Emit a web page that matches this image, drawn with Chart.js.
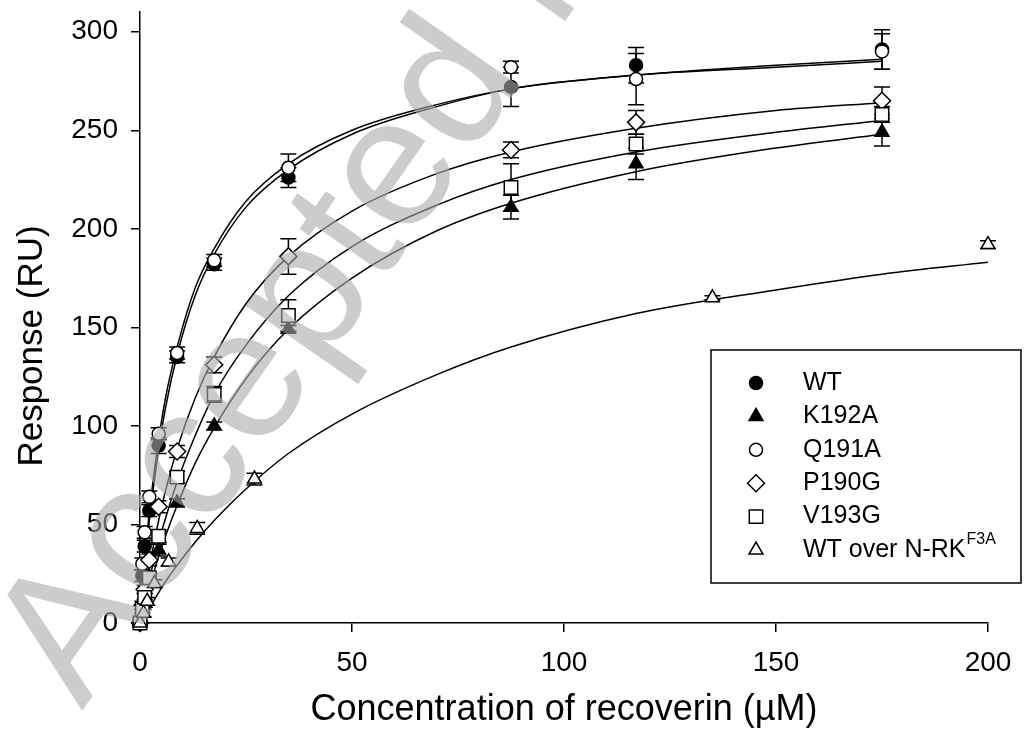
<!DOCTYPE html>
<html>
<head>
<meta charset="utf-8">
<script src="https://cdn.jsdelivr.net/npm/chart.js@4/dist/chart.umd.min.js"></script>
<style>
  html, body { margin: 0; padding: 0; background: #fff; }
  #wrap { width: 1024px; height: 746px; }
</style>
</head>
<body>
<div id="wrap"><canvas id="graph" width="1024" height="746"></canvas></div>
<script>
'use strict';

// concentrations of recoverin (uM)
var concMut = [0, 0.55, 1.1, 2.2, 4.4, 8.75, 17.5, 35, 87.5, 117, 175];
var concNRK = [0, 0.84, 1.7, 3.4, 6.75, 13.5, 27, 135, 200];

// measured response (RU) +- error
var wtY     = [0, 24, 39, 57, 90, 135, 182, 226, 272, 283, 291];
var wtErr   = [1, 3, 3, 3, 4, 3, 3, 5, 10, 9, 10];
var k192Y   = [0, 5, 10, 22, 37, 61, 100, 149, 211, 233, 249];
var k192Err = [1, 2, 2, 3, 3, 2, 2, 2, 6, 8, 7];
var q191Y   = [0, 30, 46, 64, 96, 137, 184, 231, 282, 276, 290];
var q191Err = [1, 3, 3, 3, 3, 3, 3, 7, 3, 13, 9];
var p190Y   = [0, 9, 17, 32, 59, 87, 131, 186, 240, 254, 265];
var p190Err = [1, 2, 2, 3, 3, 3, 4, 9, 4, 6, 7];
var v193Y   = [0, 7, 13, 23, 44, 74, 116, 156, 221, 243, 258];
var v193Err = [1, 2, 2, 2, 3, 3, 4, 8, 12, 5, 4];
var nrkY    = [0, 5, 11, 20, 31, 48, 73, 165, 192];
var nrkErr  = [1, 2, 2, 2, 2, 3, 3, 1, 2];

// fitted curves
var fitX    = [0, 1, 2, 4, 6, 9, 13, 17.5, 25, 35, 50, 70, 87.5, 117, 150, 175];
var fitXNRK = [0, 1, 2, 4, 6, 9, 13, 17.5, 25, 35, 50, 70, 87.5, 117, 150, 175, 200];
var wtFit   = [0, 26, 48, 82, 109, 138, 166, 187, 211, 230, 248, 262, 271, 278, 283, 286];
var q191Fit = [0, 28, 52, 87, 114, 142, 170, 190, 214, 233, 250, 263, 271, 278, 282, 285];
var p190Fit = [0, 14, 26, 48, 67, 90, 114, 135, 162, 186, 209, 228, 239, 251, 260, 264];
var v193Fit = [0, 10, 20, 38, 53, 73, 95, 116, 141, 166, 191, 212, 225, 239, 249, 255];
var k192Fit = [0, 8, 16, 31, 44, 61, 81, 99, 124, 149, 175, 199, 213, 229, 241, 248];
var nrkFit  = [0, 4, 7, 14, 21, 30, 41, 52, 68, 86, 106, 126, 140, 157, 169, 177, 183];

var yTicks = [0, 50, 100, 150, 200, 250, 300];

function pts(xs, ys) {
    return xs.map(function (x, i) { return { x: x, y: ys[i] }; });
}

function points(label, xs, ys, errs, style, radius, fill, order) {
    return {
        type: 'scatter',
        label: label,
        data: pts(xs, ys),
        errors: errs,
        pointStyle: style,
        pointRadius: radius,
        pointBackgroundColor: fill,
        pointBorderColor: '#000',
        pointBorderWidth: 1.5,
        clip: false,
        order: order
    };
}

function curve(xs, ys) {
    return {
        type: 'line',
        data: pts(xs, ys),
        borderColor: '#000',
        borderWidth: 1.5,
        pointRadius: 0,
        fill: false,
        cubicInterpolationMode: 'monotone',
        order: 20
    };
}

var pointSets = [
    points('WT', concMut, wtY, wtErr, 'circle', 6.5, '#000', 6),
    points('K192A', concMut, k192Y, k192Err, 'triangle', 8, '#000', 5),
    points('Q191A', concMut, q191Y, q191Err, 'circle', 6.5, '#fff', 4),
    points('P190G', concMut, p190Y, p190Err, 'rectRot', 8.5, '#fff', 3),
    points('V193G', concMut, v193Y, v193Err, 'rect', 9.5, '#fff', 2),
    points('WT over N-RK', concNRK, nrkY, nrkErr, 'triangle', 8, '#fff', 1)
];

var fitSets = [
    curve(fitX, wtFit), curve(fitX, q191Fit), curve(fitX, p190Fit),
    curve(fitX, v193Fit), curve(fitX, k192Fit), curve(fitXNRK, nrkFit)
];

var FONT = "'Liberation Sans', Arial, sans-serif";
Chart.defaults.font.family = FONT;
Chart.defaults.color = '#000';

// vertical error bars with caps, drawn under the markers
var errorBars = {
    id: 'errorBars',
    beforeDatasetsDraw: function (chart) {
        var ctx = chart.ctx, xs = chart.scales.x, ys = chart.scales.y;
        ctx.save();
        ctx.strokeStyle = '#000';
        ctx.lineWidth = 1.5;
        chart.data.datasets.forEach(function (ds) {
            if (!ds.errors) return;
            ds.data.forEach(function (p, i) {
                var e = ds.errors[i];
                if (!e) return;
                var px = xs.getPixelForValue(p.x);
                var top = ys.getPixelForValue(p.y + e);
                var bot = ys.getPixelForValue(p.y - e);
                ctx.beginPath();
                ctx.moveTo(px, top); ctx.lineTo(px, bot);
                ctx.moveTo(px - 8, top); ctx.lineTo(px + 8, top);
                ctx.moveTo(px - 8, bot); ctx.lineTo(px + 8, bot);
                ctx.stroke();
            });
        });
        ctx.restore();
    }
};

// y title, boxed legend inside the plot, and the gray watermark on top
var boxLegend = {
    id: 'boxLegend',
    afterDraw: function (chart) {
        var ctx = chart.ctx;
        ctx.save();
        ctx.fillStyle = '#000';
        ctx.font = '35px ' + FONT;
        ctx.textAlign = 'center';
        ctx.textBaseline = 'middle';
        ctx.translate(32, 346);
        ctx.rotate(-Math.PI / 2);
        ctx.fillText('Response (RU)', 0, 0);
        ctx.restore();

        ctx.save();
        ctx.strokeStyle = '#000';
        ctx.lineWidth = 1.5;
        ctx.strokeRect(711, 350, 310, 233);
        pointSets.forEach(function (ds, i) {
            var y = 383 + i * 33.4;
            ctx.fillStyle = ds.pointBackgroundColor;
            ctx.strokeStyle = '#000';
            ctx.lineWidth = 1.5;
            Chart.helpers.drawPoint(ctx, {
                pointStyle: ds.pointStyle,
                radius: ds.pointRadius,
                borderWidth: 1.5,
                rotation: 0
            }, 756, y);
            ctx.fillStyle = '#000';
            ctx.font = '25px ' + FONT;
            ctx.textBaseline = 'middle';
            ctx.textAlign = 'left';
            ctx.fillText(ds.label, 803, y);
            if (i === pointSets.length - 1) {
                var w = ctx.measureText(ds.label).width;
                ctx.font = '16px ' + FONT;
                ctx.fillText('F3A', 803 + w + 1, y - 10);
            }
        });

        ctx.translate(82, 711);
        ctx.rotate(-55 * Math.PI / 180);
        ctx.fillStyle = 'rgba(170,170,170,0.6)';
        ctx.font = '186px ' + FONT;
        ctx.textBaseline = 'alphabetic';
        ctx.fillText('Accepted Manuscript', 0, 0);
        ctx.restore();
    }
};

new Chart('graph', {
    type: 'scatter',
    data: { datasets: fitSets.concat(pointSets) },
    options: {
        responsive: false,
        animation: false,
        events: [],
        layout: { padding: { top: 12, right: 36, left: 0, bottom: 0 } },
        plugins: {
            legend: { display: false },
            tooltip: { enabled: false }
        },
        scales: {
            x: {
                type: 'linear',
                min: 0,
                max: 200,
                grid: { drawOnChartArea: false, drawTicks: true, tickLength: 9, color: '#000', lineWidth: 1.5 },
                border: { display: true, color: '#000', width: 1.5 },
                ticks: { stepSize: 50, padding: 14, font: { size: 28 }, color: '#000' },
                title: { display: true, text: 'Concentration of recoverin (\u00b5M)', font: { size: 36 }, color: '#000', padding: { top: 0, bottom: 14 } },
                afterFit: function (s) { s.height = 123; s.paddingLeft = 0; s.paddingRight = 0; }
            },
            y: {
                type: 'linear',
                min: 0,
                max: 310,
                grid: { drawOnChartArea: false, drawTicks: true, tickLength: 9, color: '#000', lineWidth: 1.5 },
                border: { display: true, color: '#000', width: 1.5 },
                ticks: { padding: 13, font: { size: 28 }, color: '#000' },
                afterBuildTicks: function (s) {
                    s.ticks = yTicks.map(function (v) { return { value: v }; });
                },
                afterFit: function (s) { s.width = 140; s.paddingTop = 0; s.paddingBottom = 0; }
            }
        }
    },
    plugins: [errorBars, boxLegend]
});
</script>
</body>
</html>
